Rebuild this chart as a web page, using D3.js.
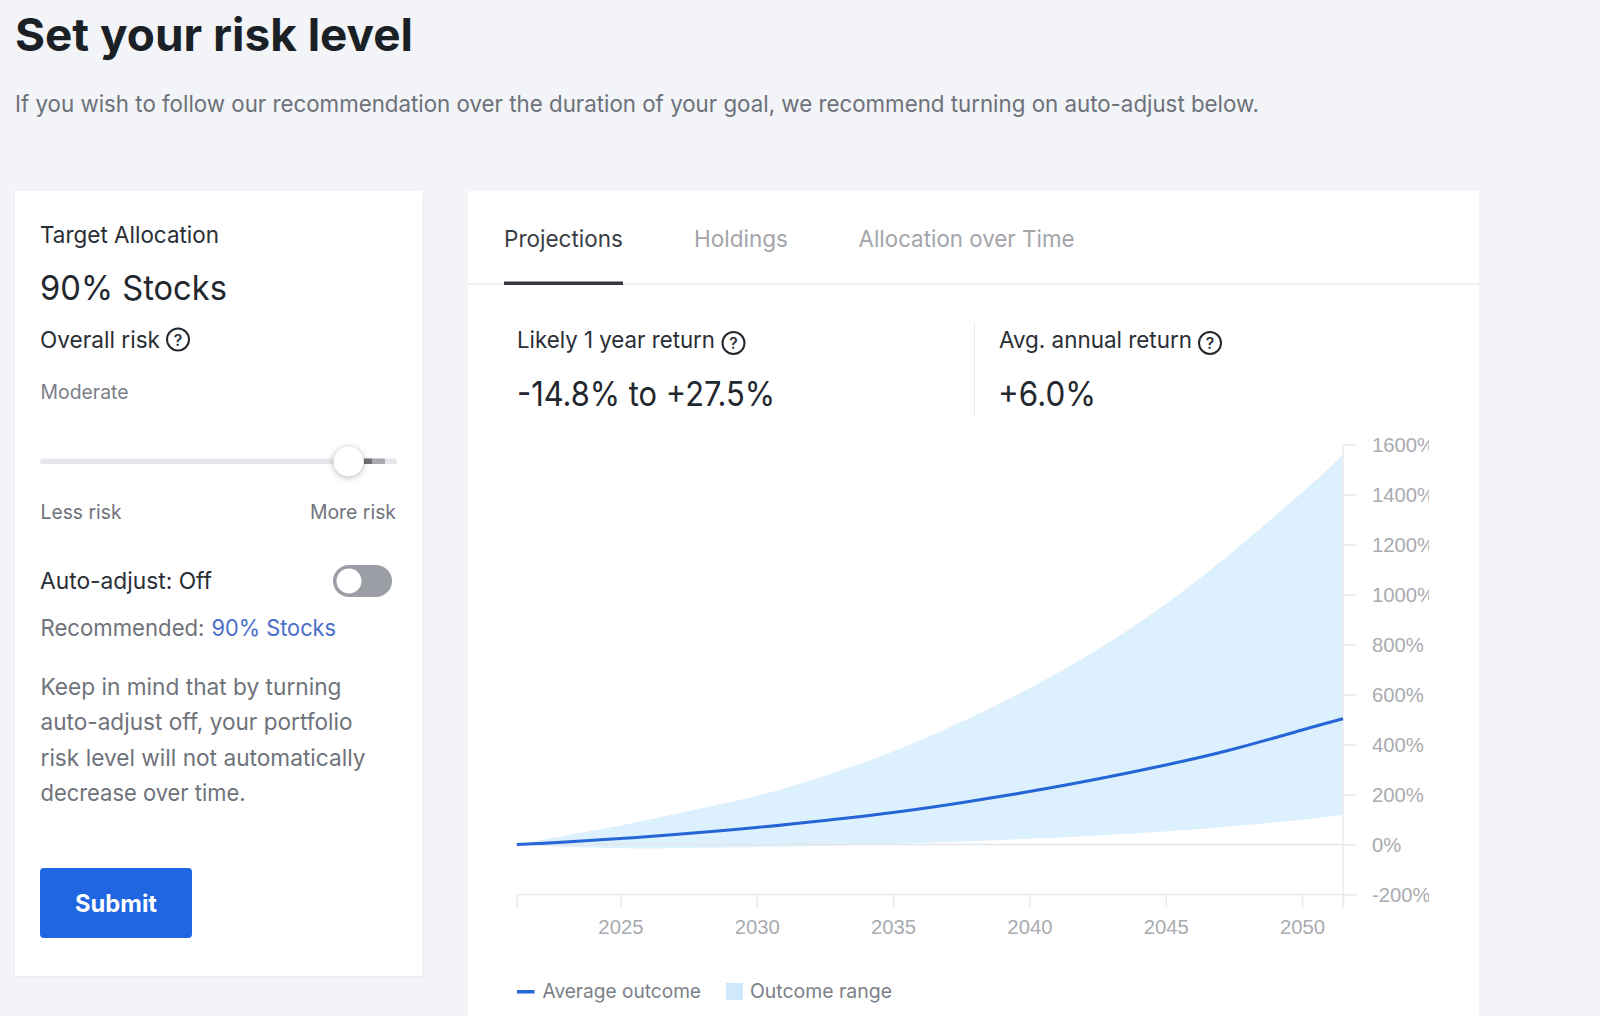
<!DOCTYPE html>
<html><head><meta charset="utf-8">
<script src="https://cdn.jsdelivr.net/npm/d3@7"></script>
<style>html,body{margin:0;padding:0;background:#f2f4f8;overflow:hidden}svg{display:block}</style>
</head><body><svg id="c" width="1600" height="1016"></svg>
<script>
const years   = [2021.2,2022,2023,2025,2027,2030,2032.5,2035,2037.5,2040,2042.5,2045,2047.5,2050,2051.5];
const upper   = [0,16,36,76,122,195,275,372,490,625,780,962,1175,1408,1559];
const average = [0,4,10,24,40,68,96,128,167,212,262,318,382,458,503];
const lower   = [0,-5,-10,-15,-15,-10,-5,2,12,23,36,52,74,99,119];
const xTicks  = [2025,2030,2035,2040,2045,2050];
const yTicks  = [-200,0,200,400,600,800,1000,1200,1400,1600];
const tabs    = ["Projections","Holdings","Allocation over Time"];
const legend  = ["Average outcome","Outcome range"];
const note    = ["Keep in mind that by turning","auto-adjust off, your portfolio","risk level will not automatically","decrease over time."];

const UI = "Inter, 'Noto Sans', sans-serif", AR = "'Liberation Sans', Arial, sans-serif";
const svg = d3.select("#c");
function T(x,y,s,size,fill,o={}){
  const t = svg.append("text").attr("x",x).attr("y",y).text(s)
    .attr("font-size",size).attr("fill",fill)
    .attr("font-family",o.family||UI).attr("font-weight",o.weight||400)
    .attr("text-anchor",o.anchor||"start");
  if(o.width) t.attr("textLength",o.width).attr("lengthAdjust","spacingAndGlyphs");
  return t;
}
function R(x,y,w,h,fill,r=0){return svg.append("rect").attr("x",x).attr("y",y).attr("width",w).attr("height",h).attr("fill",fill).attr("rx",r);}
function help(cx,cy,r){
  svg.append("circle").attr("cx",cx).attr("cy",cy).attr("r",r).attr("fill","none").attr("stroke","#23272e").attr("stroke-width",2);
  T(cx,cy+6,"?",16,"#23272e",{anchor:"middle",weight:500});
}

// Page header
T(15,51,"Set your risk level",45,"#1b1f26",{weight:700,width:398});
T(15,112,"If you wish to follow our recommendation over the duration of your goal, we recommend turning on auto-adjust below.",23,"#6d7179",{width:1244});

// Left card
R(15,191,407,785,"#fff").style("filter","drop-shadow(0 1px 1px rgba(0,0,0,.05))");
T(40,243,"Target Allocation",23,"#2a2e35",{width:179});
T(40,300,"90% Stocks",34,"#23272e",{width:187});
T(40,348,"Overall risk",23,"#2a2e35",{width:120});
help(178,339.5,11);
T(40.5,399,"Moderate",20,"#7a7e87",{width:88});
R(40,458.5,357,5.5,"#e6e7ec",2);
R(364,458.5,8,5.5,"#6f7177");
R(372,458.5,13,5.5,"#a9abaf");
svg.append("circle").attr("cx",348.5).attr("cy",461.5).attr("r",15).attr("fill","#fff").style("filter","drop-shadow(0 1px 3px rgba(0,0,0,.3))");
T(40.5,519,"Less risk",20,"#6f737b",{width:81});
T(396,519,"More risk",20,"#6f737b",{anchor:"end",width:86});
T(40,589,"Auto-adjust: Off",23,"#2a2e35",{width:172});
R(333,565,59,32,"#9c9ea6",16);
svg.append("circle").attr("cx",349).attr("cy",581).attr("r",12.5).attr("fill","#fff");
T(40.5,636,"Recommended:",23,"#6f737b",{width:164});
T(211.5,636,"90% Stocks",23,"#4a6ec9",{width:124.5});
const noteW=[301,312,325,205];
note.forEach((s,i)=>T(40.5,695+i*35.3,s,23,"#6f737b",{width:noteW[i]}));
R(40,868,152,70,"#1f66e0",4);
T(116,912,"Submit",24,"#fff",{anchor:"middle",weight:700,width:82});

// Right card
R(468,191,1011,840,"#fff");
R(468,283.5,1011,1.5,"#e8eaee");
const tabX=[504,694,858.5], tabW=[119,94,216];
tabs.forEach((s,i)=>T(tabX[i],247,s,23,i?"#a3a5aa":"#3a3e46",{width:tabW[i]}));
R(504,281.5,119,3.5,"#333740");
T(517,348,"Likely 1 year return",23,"#2a2e35",{width:198});
help(733.5,343,11);
T(999,348,"Avg. annual return",23,"#2a2e35",{width:193});
help(1210,343,11);
R(974,322,1,93,"#e8eaee");
T(517,406,"-14.8% to +27.5%",34,"#23272e",{width:258});
T(998,406,"+6.0%",34,"#23272e",{width:98});

// Chart
const x = d3.scaleLinear().domain([2021.2,2051.5]).range([516.8,1343]);
const y = d3.scaleLinear().domain([-200,1600]).range([894.5,444.5]);
const rows = years.map((d,i)=>({year:d,hi:upper[i],mean:average[i],lo:lower[i]}));
const curve = d3.curveNatural;
const AX="#e9ebef", TL="#a9abb0";

svg.append("path").datum(rows).attr("fill","#ddf0fd")
  .attr("d",d3.area().x(d=>x(d.year)).y0(d=>y(d.lo)).y1(d=>y(d.hi)).curve(curve));

svg.append("clipPath").attr("id","lab").append("rect").attr("x",-5).attr("y",420).attr("width",91).attr("height",500);

const gy = svg.append("g").attr("transform",`translate(${x.range()[1]},0)`)
  .call(d3.axisRight(y).tickValues(yTicks).tickSize(14).tickPadding(15).tickFormat(d=>d+"%"));
gy.attr("clip-path","url(#lab)");
gy.select(".domain").remove();
gy.selectAll(".tick line").attr("stroke",AX).attr("stroke-width",1.5);
gy.selectAll(".tick text").attr("fill",TL).attr("font-family",AR).attr("font-size",20.3);

svg.append("line").attr("x1",x.range()[1]).attr("x2",x.range()[1]).attr("y1",y(1600)).attr("y2",908).attr("stroke",AX).attr("stroke-width",1.5);
svg.append("line").attr("x1",x.range()[0]).attr("x2",x.range()[1]).attr("y1",y(0)).attr("y2",y(0)).attr("stroke","#e4e5e9").attr("stroke-width",1.5);

const gx = svg.append("g").attr("transform",`translate(0,${y(-200)})`)
  .call(d3.axisBottom(x).tickValues([x.domain()[0],...xTicks,x.domain()[1]]).tickSize(13).tickPadding(12)
    .tickFormat(d=>xTicks.includes(d)?String(d):""));
gx.select(".domain").attr("d",`M${x.range()[0]},0H1357`).attr("stroke",AX).attr("stroke-width",1.5);
gx.selectAll(".tick line").attr("stroke",AX).attr("stroke-width",1.5);
gx.selectAll(".tick text").attr("fill",TL).attr("font-family",AR).attr("font-size",20.3);

svg.append("path").datum(rows).attr("fill","none").attr("stroke","#2565d6").attr("stroke-width",3)
  .attr("d",d3.line().x(d=>x(d.year)).y(d=>y(d.mean)).curve(curve));

// Legend
R(517,990,17.5,3.5,"#2565d6");
T(542.5,998,legend[0],20,"#7c8087",{width:158.5});
R(726,983,17,17,"#cfe8fb");
T(750,998,legend[1],20,"#7c8087",{width:142});
</script></body></html>
